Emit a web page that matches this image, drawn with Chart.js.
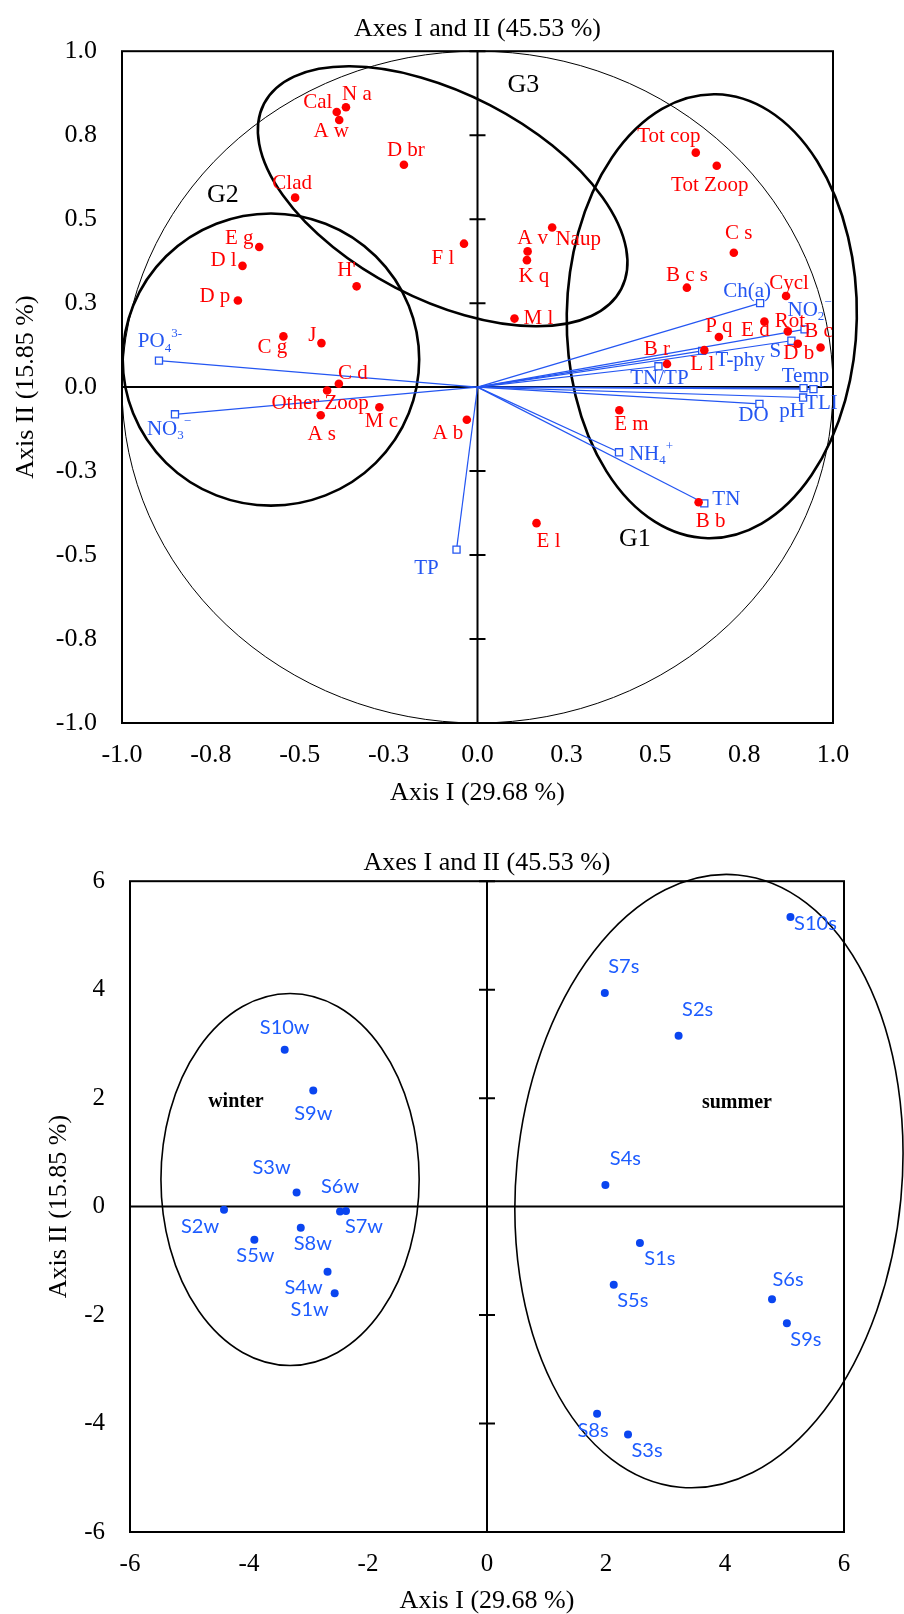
<!DOCTYPE html>
<html>
<head>
<meta charset="utf-8">
<script src="https://cdn.jsdelivr.net/npm/chart.js@4.4.1/dist/chart.umd.min.js"></script>
<style>
  body { margin: 0; background: #fff; }
  canvas { display: block; }
</style>
</head>
<body>
<canvas id="varsChart" width="904" height="810"></canvas>
<canvas id="sitesChart" width="904" height="804"></canvas>
<script>
// ---- variables plot (top) ----
const speciesNames = ['Cal', 'N a', 'A w', 'D br', 'Clad', 'E g', 'D l', "H'", 'D p', 'C g', 'J', 'C d', 'Other Zoop', 'M c', 'A s',
  'F l', 'A b', 'Naup', 'A v', 'K q', 'M l', 'Tot cop', 'Tot Zoop', 'C s', 'B c s', 'Cycl', 'E d', 'Rot', 'P q', 'B c', 'D b',
  'L l', 'B r', 'E m', 'E l', 'B b'];
const speciesX = [-0.396, -0.370, -0.389, -0.207, -0.513, -0.614, -0.661, -0.340, -0.674, -0.546, -0.439, -0.390, -0.423, -0.276, -0.441,
  -0.038, -0.030, 0.210, 0.141, 0.139, 0.104, 0.614, 0.673, 0.721, 0.589, 0.868, 0.807, 0.873, 0.679, 0.965, 0.901,
  0.638, 0.533, 0.399, 0.166, 0.622];
const speciesY = [0.819, 0.833, 0.795, 0.662, 0.564, 0.417, 0.361, 0.300, 0.258, 0.151, 0.131, 0.010, -0.010, -0.060, -0.084,
  0.427, -0.097, 0.475, 0.404, 0.378, 0.204, 0.698, 0.659, 0.400, 0.296, 0.271, 0.195, 0.166, 0.149, 0.118, 0.129,
  0.110, 0.069, -0.069, -0.405, -0.343];

// environmental vectors (_ = subscript, ^ = superscript)
const envNames = ['PO_4^3-', 'NO_3^\u2212', 'TP', 'NH_4^+', 'TN', 'Ch(a)', 'NO_2^\u2212', 'S', 'T-phy', 'TN/TP', 'Temp', 'TLI', 'pH', 'DO'];
const envX = [-0.896, -0.851, -0.059, 0.398, 0.638, 0.795, 0.920, 0.883, 0.632, 0.509, 0.917, 0.945, 0.916, 0.793];
const envY = [0.079, -0.081, -0.484, -0.194, -0.346, 0.250, 0.172, 0.138, 0.108, 0.062, -0.003, -0.006, -0.031, -0.050];

// ---- sites plot (bottom) ----
const siteNames = ['S1w', 'S2w', 'S3w', 'S4w', 'S5w', 'S6w', 'S7w', 'S8w', 'S9w', 'S10w',
  'S1s', 'S2s', 'S3s', 'S4s', 'S5s', 'S6s', 'S7s', 'S8s', 'S9s', 'S10s'];
const siteX = [-2.56, -4.42, -3.20, -2.68, -3.91, -2.47, -2.37, -3.13, -2.92, -3.40,
  2.57, 3.22, 2.37, 1.99, 2.13, 4.79, 1.98, 1.85, 5.04, 5.10];
const siteY = [-1.60, -0.06, 0.26, -1.20, -0.61, -0.09, -0.08, -0.39, 2.14, 2.89,
  -0.67, 3.15, -4.20, 0.40, -1.44, -1.71, 3.94, -3.82, -2.15, 5.34];

// label nudges in px (label centre relative to its marker)
const speciesNudge = [[-19, -10], [11, -13], [-8, 11], [2, -14], [-3, -14], [-20, -9], [-19, -5], [-10, -16], [-23, -4], [-11, 11],
  [-9, -8], [14, -10], [-7, 13], [2, 14], [1, 19], [-21, 15], [-19, 14], [26, 12], [5, -13], [7, 16], [24, 0],
  [-27, -16], [-7, 20], [5, -19], [0, -12], [3, -13], [-9, 9], [2, -10], [0, -11], [-2, -16], [1, 10],
  [-2, 14], [-10, -14], [12, 14], [12, 18], [12, 19]];
const envNudge = [[1, -19], [-6, 15], [-30, 19], [32, 2], [22, -4], [-13, -12], [5, -19], [-16, 11], [38, 10], [1, 12],
  [2, -12], [8, 14], [-11, 14], [-6, 12]];
const siteNudge = [[-25, 16], [-24, 17], [-25, -25], [-24, 16], [1, 16], [0, -25], [18, 16], [12, 16], [0, 23], [0, -22],
  [20, 16], [19, -26], [19, 16], [20, -26], [19, 16], [16, -20], [19, -26], [-4, 17], [19, 16], [25, 7]];

// correlation circle and group outlines (data units, rotation in degrees)
const varShapes = [
  { cx: 0, cy: 0, rx: 1, ry: 1, rot: 0, w: 1 },
  { cx: -0.581, cy: 0.082, rx: 0.417, ry: 0.435, rot: 0, w: 2.6 },
  { cx: -0.098, cy: 0.568, rx: 0.566, ry: 0.306, rot: 27.4, w: 2.6 },
  { cx: 0.659, cy: 0.211, rx: 0.408, ry: 0.661, rot: 1, w: 2.6 }
];
const siteShapes = [
  { cx: -3.31, cy: 0.50, rx: 2.17, ry: 3.43, rot: 0, w: 1.6 },
  { cx: 3.73, cy: 0.47, rx: 3.24, ry: 5.67, rot: 5.4, w: 1.6 }
];

const SERIF = '"Liberation Serif", "Times New Roman", serif';
const RED = '#ff0000';
const BLUE = '#2456f2';
const SITE_BLUE = '#1d5cff';

Chart.defaults.color = '#000';
Chart.defaults.font.family = SERIF;

// draws text with _sub and ^sup parts, centred on (cx, cy)
function drawRich(ctx, text, cx, cy, size, family, color, weight) {
  const parts = [];
  const m = text.match(/^([^_^]*)(?:_([^\^]*))?(?:\^(.*))?$/);
  parts.push({ t: m[1], k: 0 });
  if (m[2]) parts.push({ t: m[2], k: -1 });
  if (m[3]) parts.push({ t: m[3], k: 1 });
  const w = weight || 'normal';
  let total = 0;
  parts.forEach(p => {
    p.size = p.k === 0 ? size : size * 0.62;
    ctx.font = w + ' ' + p.size + 'px ' + family;
    p.w = ctx.measureText(p.t).width;
    total += p.w;
  });
  let x = cx - total / 2;
  ctx.fillStyle = color;
  ctx.textAlign = 'left';
  ctx.textBaseline = 'middle';
  parts.forEach(p => {
    ctx.font = w + ' ' + p.size + 'px ' + family;
    const dy = p.k === -1 ? size * 0.32 : (p.k === 1 ? -size * 0.36 : 0);
    ctx.fillText(p.t, x, cy + dy);
    x += p.w;
  });
}

// frame, centre cross with ticks, and outlines
function framePlugin(shapes) {
  return {
    id: 'frameAndShapes',
    beforeDatasetsDraw(chart) {
      const { ctx, chartArea: a, scales: { x, y } } = chart;
      ctx.save();
      ctx.strokeStyle = '#000';
      ctx.lineWidth = 2;
      ctx.strokeRect(a.left, a.top, a.right - a.left, a.bottom - a.top);
      const x0 = x.getPixelForValue(0), y0 = y.getPixelForValue(0);
      ctx.beginPath();
      ctx.moveTo(a.left, y0); ctx.lineTo(a.right, y0);
      ctx.moveTo(x0, a.top); ctx.lineTo(x0, a.bottom);
      y.ticks.forEach(t => {
        const py = y.getPixelForValue(t.value);
        ctx.moveTo(x0 - 8, py); ctx.lineTo(x0 + 8, py);
      });
      ctx.stroke();
      const kx = x.getPixelForValue(1) - x.getPixelForValue(0);
      const ky = y.getPixelForValue(0) - y.getPixelForValue(1);
      shapes.forEach(e => {
        ctx.beginPath();
        ctx.lineWidth = e.w;
        ctx.ellipse(x.getPixelForValue(e.cx), y.getPixelForValue(e.cy), e.rx * kx, e.ry * ky, e.rot * Math.PI / 180, 0, Math.PI * 2);
        ctx.stroke();
      });
      ctx.restore();
    }
  };
}

// text labels anchored to data points
function labelPlugin(items) {
  return {
    id: 'pointLabels',
    afterDatasetsDraw(chart) {
      const { ctx, scales: { x, y } } = chart;
      ctx.save();
      items.forEach(it => {
        drawRich(ctx, it.text, x.getPixelForValue(it.x) + it.dx, y.getPixelForValue(it.y) + it.dy,
          it.size, it.family, it.color, it.weight);
      });
      ctx.restore();
    }
  };
}

const varLabels = [];
speciesNames.forEach((n, i) => varLabels.push({ text: n, x: speciesX[i], y: speciesY[i], dx: speciesNudge[i][0], dy: speciesNudge[i][1], size: 21, family: SERIF, color: RED }));
envNames.forEach((n, i) => varLabels.push({ text: n, x: envX[i], y: envY[i], dx: envNudge[i][0], dy: envNudge[i][1], size: 21, family: SERIF, color: BLUE }));
varLabels.push({ text: 'G1', x: 0.443, y: -0.454, dx: 0, dy: 0, size: 26, family: SERIF, color: '#000' });
varLabels.push({ text: 'G2', x: -0.716, y: 0.572, dx: 0, dy: 0, size: 26, family: SERIF, color: '#000' });
varLabels.push({ text: 'G3', x: 0.129, y: 0.899, dx: 0, dy: 0, size: 26, family: SERIF, color: '#000' });

const siteLabels = siteNames.map((n, i) => ({ text: n, x: siteX[i], y: siteY[i], dx: siteNudge[i][0], dy: siteNudge[i][1], size: 20, family: 'Lato, "Open Sans", sans-serif', color: SITE_BLUE }));
siteLabels.push({ text: 'winter', x: -4.22, y: 1.93, dx: 0, dy: 0, size: 20, family: SERIF, color: '#000', weight: 'bold' });
siteLabels.push({ text: 'summer', x: 4.20, y: 1.92, dx: 0, dy: 0, size: 20, family: SERIF, color: '#000', weight: 'bold' });

function axisOptions(min, max, step, fmt, size, tickPad, titleText, titlePad, fit) {
  return {
    type: 'linear', min: min, max: max,
    afterFit: fit,
    ticks: { stepSize: step, padding: tickPad, autoSkip: false, maxRotation: 0, color: '#000', font: { size: size, family: SERIF }, callback: fmt },
    grid: { display: false, drawTicks: false },
    border: { display: false },
    title: { display: true, text: titleText, color: '#000', font: { size: 26, family: SERIF, lineHeight: 1 }, padding: titlePad }
  };
}

const vectorSets = envNames.map((n, i) => ({
  label: n,
  data: [{ x: 0, y: 0 }, { x: envX[i], y: envY[i] }],
  showLine: true,
  borderColor: BLUE,
  borderWidth: 1.2,
  pointStyle: 'rect',
  pointRadius: [0, 5],
  pointBackgroundColor: '#fff',
  pointBorderColor: BLUE,
  pointBorderWidth: 1.3,
  order: 2,
  clip: false
}));

new Chart(document.getElementById('varsChart'), {
  type: 'scatter',
  data: {
    datasets: [...vectorSets, {
      label: 'species',
      data: speciesNames.map((n, i) => ({ x: speciesX[i], y: speciesY[i] })),
      pointRadius: 4.3,
      pointBackgroundColor: RED,
      pointBorderWidth: 0,
      order: 0,
      clip: false
    }]
  },
  options: {
    responsive: false,
    animation: false,
    events: [],
    layout: { padding: { left: 0, right: 71, top: 0, bottom: 0 } },
    scales: {
      x: axisOptions(-1, 1, 0.25, v => v.toFixed(1), 26, 17, 'Axis I (29.68 %)', { top: 0, bottom: 4 }, s => { s.height = 87; }),
      y: axisOptions(-1, 1, 0.25, v => v.toFixed(1), 26, 25, 'Axis II (15.85 %)', { top: 13, bottom: 0 }, s => { s.width = 122; })
    },
    plugins: {
      legend: { display: false },
      tooltip: { enabled: false },
      title: { display: true, text: 'Axes I and II (45.53 %)', fullSize: false, color: '#000', font: { size: 26, weight: 'normal', family: SERIF, lineHeight: 1.2 }, padding: { top: 14, bottom: 6 } }
    }
  },
  plugins: [framePlugin(varShapes), labelPlugin(varLabels)]
});

new Chart(document.getElementById('sitesChart'), {
  type: 'scatter',
  data: {
    datasets: [{
      label: 'sites',
      data: siteNames.map((n, i) => ({ x: siteX[i], y: siteY[i] })),
      pointRadius: 4,
      pointBackgroundColor: '#0a45f0',
      pointBorderWidth: 0,
      clip: false
    }]
  },
  options: {
    responsive: false,
    animation: false,
    events: [],
    layout: { padding: { left: 0, right: 60, top: 0, bottom: 0 } },
    scales: {
      x: axisOptions(-6, 6, 2, v => String(v), 25, 17, 'Axis I (29.68 %)', { top: 0, bottom: 0 }, s => { s.height = 82; }),
      y: axisOptions(-6, 6, 2, v => String(v), 25, 25, 'Axis II (15.85 %)', { top: 46, bottom: 0 }, s => { s.width = 130; })
    },
    plugins: {
      legend: { display: false },
      tooltip: { enabled: false },
      title: { display: true, text: 'Axes I and II (45.53 %)', fullSize: false, color: '#000', font: { size: 26, weight: 'normal', family: SERIF, lineHeight: 1.2 }, padding: { top: 38, bottom: 2 } }
    }
  },
  plugins: [framePlugin(siteShapes), labelPlugin(siteLabels)]
});
</script>
</body>
</html>
